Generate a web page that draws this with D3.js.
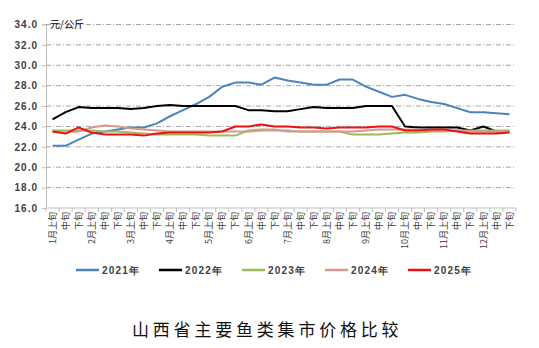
<!DOCTYPE html>
<html><head><meta charset="utf-8">
<script src="https://cdn.jsdelivr.net/npm/d3@7"></script>
<style>html,body{margin:0;padding:0;background:#fff;}</style>
</head><body>
<svg id="chart" width="539" height="348"></svg>
<script>
const months = ["1月","2月","3月","4月","5月","6月","7月","8月","9月","10月","11月","12月"];
const periods = ["上旬","中旬","下旬"];
const categories = [];
months.forEach(m => periods.forEach((p,i) => categories.push(i===0 ? m+p : p)));
const yTicks = [16,18,20,22,24,26,28,30,32,34];
const seriesNames = ["2021年","2022年","2023年","2024年","2025年"];
const seriesColors = ["#4f81bd","#000000","#9bbb59","#d99694","#ee1111"];
const v2021 = [22.1,22.1,22.7,23.3,23.5,23.7,23.9,23.9,24.3,25.0,25.6,26.2,26.9,27.9,28.3,28.3,28.1,28.8,28.5,28.3,28.1,28.1,28.6,28.6,27.9,27.4,26.9,27.1,26.7,26.4,26.2,25.8,25.4,25.4,25.3,25.2];
const v2022 = [24.7,25.4,25.9,25.8,25.8,25.8,25.7,25.8,26.0,26.1,26.0,26.0,26.0,26.0,26.0,25.6,25.6,25.5,25.5,25.7,25.9,25.8,25.8,25.8,26.0,26.0,26.0,24.0,23.9,23.9,23.9,23.9,23.6,24.0,23.5,23.5];
const v2023 = [23.6,23.6,23.6,23.6,23.5,23.5,23.4,23.3,23.2,23.2,23.2,23.2,23.1,23.1,23.1,23.6,23.7,23.7,23.5,23.5,23.5,23.5,23.5,23.2,23.2,23.2,23.3,23.4,23.4,23.5,23.5,23.6,23.6,23.6,23.6,23.6];
const v2024 = [23.5,23.4,23.5,23.9,24.1,24.0,23.8,23.7,23.6,23.5,23.5,23.5,23.5,23.5,23.5,23.5,23.6,23.6,23.6,23.5,23.5,23.5,23.5,23.5,23.6,23.7,23.7,23.7,23.7,23.6,23.6,23.6,23.5,23.5,23.5,23.5];
const v2025 = [23.5,23.3,23.9,23.4,23.2,23.2,23.2,23.1,23.3,23.4,23.4,23.4,23.4,23.5,24.0,24.0,24.2,24.0,24.0,23.9,23.9,23.8,23.9,23.9,23.9,24.0,24.0,23.6,23.6,23.7,23.7,23.5,23.3,23.3,23.3,23.4];
const seriesValues = [v2021,v2022,v2023,v2024,v2025];

const svg = d3.select("#chart");
const L = 46, R = 516, T = 24.5, B = 208;
const idx = d3.range(categories.length);
const x = d3.scalePoint().domain(idx).range([L,R]).padding(0.5);
const y = d3.scaleLinear().domain([16,34]).range([B,T]);

// gridlines
svg.append("g").selectAll("line").data(yTicks.filter(t=>t>16)).join("line")
  .attr("x1",L).attr("x2",R).attr("y1",d=>y(d)).attr("y2",d=>y(d))
  .attr("stroke","#a6a6a6").attr("stroke-width",1).attr("stroke-dasharray","5,2,1,2");

// y axis
const yAxis = svg.append("g").attr("transform",`translate(${L},0)`)
  .call(d3.axisLeft(y).tickValues(yTicks).tickFormat(d3.format(".1f")).tickSize(4).tickPadding(4));
yAxis.select(".domain").attr("stroke","#bfbfbf");
yAxis.selectAll(".tick line").attr("stroke","#bfbfbf");
yAxis.selectAll("text").attr("fill","#404040").style("font-family","'Liberation Sans',Arial,sans-serif")
  .style("font-size","10px").style("font-weight","bold").style("letter-spacing","1px");

// x axis
const band = x.step();
const xAxisG = svg.append("g");
xAxisG.append("line").attr("x1",L).attr("x2",R).attr("y1",B).attr("y2",B).attr("stroke","#bfbfbf");
xAxisG.selectAll("line.tk").data(d3.range(categories.length+1)).join("line").attr("class","tk")
  .attr("x1",d=>L+d*band).attr("x2",d=>L+d*band).attr("y1",B).attr("y2",B+4).attr("stroke","#bfbfbf");
xAxisG.selectAll("text").data(idx).join("text")
  .attr("transform",d=>`translate(${x(d)},${B+4}) rotate(-90)`)
  .attr("text-anchor","end").attr("dy","0.35em")
  .attr("fill","#404040").style("font-family","'Noto Sans CJK SC',sans-serif").style("font-size","9px")
  .text(d=>categories[d]);

// unit label
svg.append("text").attr("x",50).attr("y",y(34)).attr("dy","0.35em")
  .attr("fill","#333").style("font-family","'Noto Sans CJK SC',sans-serif").style("font-size","10px")
  .style("font-weight","500").text("元/公斤");

// lines
const line = d3.line().x((d,i)=>x(i)).y(d=>y(d));
svg.append("g").selectAll("path").data(seriesValues).join("path")
  .attr("d",d=>line(d)).attr("fill","none")
  .attr("stroke",(d,i)=>seriesColors[i]).attr("stroke-width",2).attr("stroke-linejoin","round");

// legend
const leg = svg.append("g");
seriesNames.forEach((n,i)=>{
  const lx = 76 + i*83;
  leg.append("line").attr("x1",lx).attr("x2",lx+23).attr("y1",270).attr("y2",270)
    .attr("stroke",seriesColors[i]).attr("stroke-width",2.5);
  leg.append("text").attr("x",lx+26).attr("y",270).attr("dy","0.35em")
    .attr("fill","#404040").style("font-family","'Liberation Sans',Arial,sans-serif")
    .style("font-size","10px").style("font-weight","bold").style("letter-spacing","1.2px").text(n);
});

// title
svg.append("text").attr("x",132).attr("y",330).attr("dy","0.35em")
  .attr("fill","#111").style("font-family","'Noto Sans CJK SC',sans-serif").style("font-size","17px")
  .style("letter-spacing","3.8px").text("山西省主要鱼类集市价格比较");
</script>
</body></html>
